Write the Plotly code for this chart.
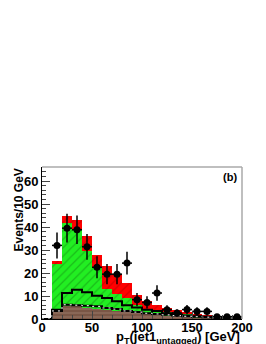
import numpy as np
import plotly.graph_objects as go

# ---- data (per 10 GeV bin, 0-200 GeV) ----
bin_lo = list(range(0, 200, 10))
data_counts = [None, 32, 39.5, 38.8, 31.4, 22.5, 19.5, 19.5, 24.3, 8.4, 7.2, 11.3, 4.0, 2.6, 4.1, 3.3, 3.3, 1, 1, 1]
bkg_brown = [0, 3, 5.5, 5.5, 5, 4.5, 4, 3.5, 3, 2.5, 2, 1.8, 1.5, 1.2, 1, 0.8, 0.6, 0.5, 0.4, 0.3]
bkg_green = [0, 21, 36.2, 33, 24.6, 17.5, 9, 7.5, 6, 3.5, 2.5, 2.2, 1.5, 1.3, 1, 0.7, 0.6, 0.5, 0.4, 0.3]
sig_red = [0, 1.2, 3.3, 4.5, 6.4, 6, 10, 8.5, 6.5, 4.5, 3.2, 2.2, 1.8, 1.3, 1, 0.7, 0.6, 0.2, 0.1, 0.1]
line_solid = [0, 4, 11.3, 12.7, 11.6, 10.1, 9.1, 7.7, 6, 5, 4, 3.5, 2.5, 2, 1.5, 1.2, 1, 0.7, 0.5, 0.4]
line_dashed = [0, 3.5, 6.2, 6, 5.8, 5.5, 4.8, 4.3, 3.5, 3, 2.5, 2.2, 1.8, 1.5, 1.2, 1, 0.8, 0.6, 0.5, 0.4]
x_ticks = [0, 50, 100, 150, 200]

bw = 10
centers = [b + bw / 2 for b in bin_lo]
edges = bin_lo + [bin_lo[-1] + bw]

FONT = "Liberation Sans"
fig = go.Figure()

fig.add_trace(go.Bar(x=centers, y=bkg_brown, width=bw,
                     marker=dict(color="#7a5646", line=dict(width=0),
                                 pattern=dict(shape="-", fgcolor="#b89c8c", bgcolor="#7a5646", size=4, solidity=0.25))))
fig.add_trace(go.Bar(x=centers, y=bkg_green, width=bw,
                     marker=dict(color="#22ee22", line=dict(width=0),
                                 pattern=dict(shape="/", fgcolor="#118811", bgcolor="#22ee22", size=6, solidity=0.2))))
fig.add_trace(go.Bar(x=centers, y=sig_red, width=bw,
                     marker=dict(color="#ff0000", line=dict(width=0),
                                 pattern=dict(shape="/", fgcolor="#aa0000", bgcolor="#ff0000", size=6, solidity=0.2))))

fig.add_trace(go.Scatter(x=edges, y=line_solid + [line_solid[-1]], mode="lines",
                         line=dict(shape="hv", color="black", width=2)))
fig.add_trace(go.Scatter(x=edges, y=line_dashed + [line_dashed[-1]], mode="lines",
                         line=dict(shape="hv", color="black", width=2)))
fig.add_trace(go.Scatter(x=edges, y=line_dashed + [line_dashed[-1]], mode="lines",
                         line=dict(shape="hv", color="white", width=1, dash="2px,4px")))

err = [np.sqrt(v) if v is not None else None for v in data_counts]
fig.add_trace(go.Scatter(x=centers, y=data_counts, mode="markers",
                         marker=dict(color="black", size=7),
                         error_y=dict(type="data", array=err, thickness=1.5, width=0, color="black"),
                         error_x=dict(type="constant", value=bw / 2, thickness=1.5, width=0, color="black")))

fig.update_layout(
    width=266, height=344, barmode="stack", bargap=0, showlegend=False,
    paper_bgcolor="white", plot_bgcolor="white",
    margin=dict(l=34, r=32, t=159, b=33),
    font=dict(family=FONT, color="black"),
    xaxis=dict(range=[0, 200], tickvals=x_ticks, ticks="inside", ticklen=8, tickwidth=1,
               minor=dict(dtick=10, ticks="inside", ticklen=4),
               ticklabelstandoff=-4,
               showline=True, linecolor="black", linewidth=1, showgrid=False, zeroline=False,
               tickfont=dict(size=13, weight="bold", family=FONT)),
    yaxis=dict(range=[0, 66.1], dtick=10, ticks="inside", ticklen=8, tickwidth=1,
               minor=dict(dtick=2, ticks="inside", ticklen=4),
               showline=True, linecolor="black", linewidth=1, showgrid=False, zeroline=False,
               tickfont=dict(size=13, weight="bold", family=FONT)),
    shapes=[
        dict(type="line", xref="paper", yref="paper", x0=0, x1=1, y0=1, y1=1, line=dict(color="#aaaaaa", width=1.5)),
        dict(type="line", xref="paper", yref="paper", x0=1, x1=1, y0=0, y1=1, line=dict(color="#aaaaaa", width=1.5)),
    ],
    annotations=[
        dict(text="p<sub>T</sub>(jet1<sub>untagged</sub>) [GeV]", xref="paper", yref="paper",
             x=1, y=-0.123, xanchor="right", yanchor="middle", showarrow=False,
             font=dict(size=13, weight="bold", family=FONT)),
        dict(text="Events/10 GeV", xref="paper", yref="paper", x=-0.12, y=1,
             xanchor="center", yanchor="top", textangle=-90, showarrow=False,
             font=dict(size=12, weight="bold", family=FONT)),
        dict(text="(b)", xref="paper", yref="paper", x=0.985, y=0.985, xanchor="right", yanchor="top",
             showarrow=False, font=dict(size=11, weight="bold", family=FONT)),
    ],
)

fig.write_html("out.html")
